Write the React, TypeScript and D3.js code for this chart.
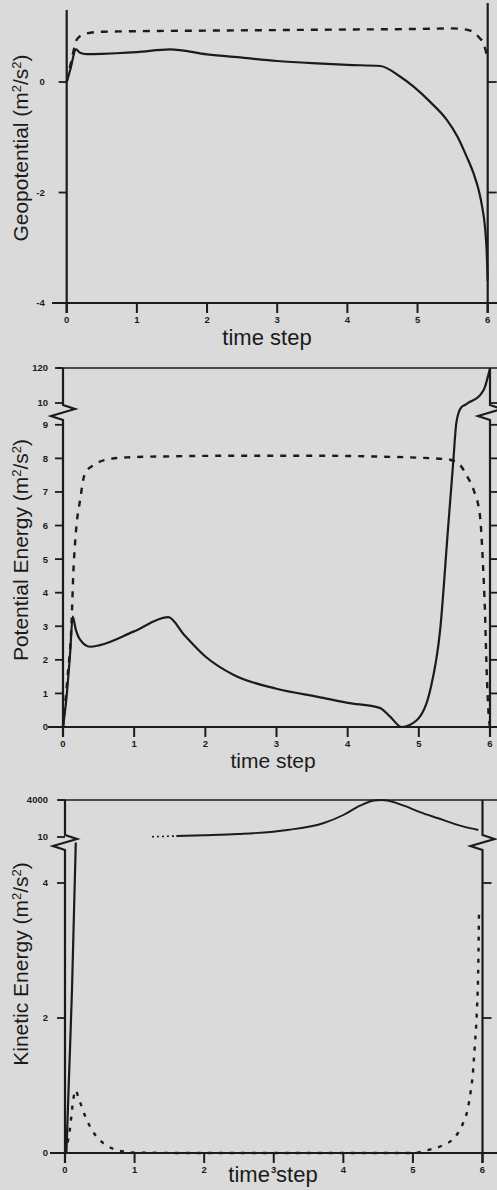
import React from "react";
import * as d3 from "d3";

// ---------- data ----------
const timeTicks = [0, 1, 2, 3, 4, 5, 6];

const geoTicks = [0, -2, -4];
const peTicks = [0, 1, 2, 3, 4, 5, 6, 7, 8, 9, 10, 120];
const keTicks = [0, 2, 4, 10, 4000];

// Panel 1: Geopotential
const geoSolidT = [0, 0.05, 0.133, 0.19, 0.28, 0.5, 0.71, 1.0, 1.47, 2.0, 2.5, 3.0, 3.5, 4.0, 4.47, 4.75, 4.94, 5.18, 5.42, 5.57, 5.7, 5.8, 5.87, 5.92, 5.96, 5.985, 6.0];
const geoSolidV = [0, 0.22, 0.59, 0.53, 0.505, 0.51, 0.52, 0.54, 0.59, 0.5, 0.44, 0.38, 0.34, 0.31, 0.29, 0.1, -0.08, -0.36, -0.69, -0.99, -1.35, -1.66, -1.95, -2.25, -2.61, -3.05, -3.6];
const geoDashT = [0, 0.07, 0.14, 0.2, 0.285, 0.52, 1.0, 2.0, 3.0, 4.0, 5.0, 5.5, 5.63, 5.75, 5.82, 5.88, 5.94, 5.98, 6.0];
const geoDashV = [0, 0.4, 0.76, 0.84, 0.88, 0.91, 0.92, 0.93, 0.94, 0.95, 0.96, 0.97, 0.96, 0.93, 0.88, 0.8, 0.7, 0.52, 0.4];

// Panel 2: Potential Energy
const peSolidT = [0, 0.05, 0.1, 0.136, 0.18, 0.24, 0.38, 0.52, 0.99, 1.48, 1.7, 2.0, 2.4, 3.0, 3.6, 4.0, 4.45, 4.6, 4.76, 4.97, 5.16, 5.3, 5.41, 5.48, 5.53, 5.6, 5.66, 5.72, 5.81, 5.87, 5.93, 5.976, 6.0];
const peSolidV = [0, 0.9, 2.2, 3.29, 2.9, 2.6, 2.39, 2.44, 2.84, 3.27, 2.75, 2.1, 1.55, 1.14, 0.89, 0.72, 0.57, 0.3, 0, 0.2, 1.1, 2.9, 5.9, 7.8, 9.1, 9.6, 9.85, 14, 24.8, 37, 61, 98, 118];
const peDashT = [0, 0.06, 0.12, 0.145, 0.18, 0.24, 0.31, 0.43, 0.66, 0.9, 1.5, 2.5, 3.5, 4.5, 5.0, 5.35, 5.44, 5.58, 5.68, 5.77, 5.86, 5.9, 5.93, 5.95, 5.98, 6.0];
const peDashV = [0, 1.4, 3.1, 4.58, 5.77, 6.76, 7.56, 7.8, 7.98, 8.03, 8.06, 8.08, 8.08, 8.05, 8.02, 7.98, 7.96, 7.8, 7.46, 7.06, 6.27, 4.9, 3.4, 1.9, 0.4, 0];

// Panel 3: Kinetic Energy
const keSolidT = [0.02, 0.06, 0.1, 0.155];
const keSolidV = [0, 1.2, 2.4, 4.6];
const keUpperDotT = [1.25, 1.4, 1.58];
const keUpperDotV = [42, 70, 110];
const keUpperT = [1.6, 2.0, 2.49, 3.2, 3.72, 4.0, 4.24, 4.44, 4.55, 4.63, 4.87, 5.1, 5.35, 5.73, 5.94];
const keUpperV = [115, 200, 333, 765, 1520, 2382, 3385, 3950, 4000, 3950, 3385, 2700, 2059, 1121, 765];
const keDashT = [0, 0.07, 0.12, 0.15, 0.2, 0.3, 0.4, 0.5, 0.6, 0.7, 0.85, 1.0, 2, 3, 4, 5, 5.2, 5.44, 5.61, 5.72, 5.79, 5.83, 5.86, 5.89, 5.92, 5.94, 5.95];
const keDashV = [0, 0.35, 0.8, 0.93, 0.8, 0.52, 0.32, 0.19, 0.11, 0.06, 0.02, 0.005, 0, 0, 0, 0, 0.04, 0.12, 0.24, 0.44, 0.66, 0.91, 1.16, 1.6, 2.12, 2.8, 3.6];

// ---------- drawing ----------
const INK = "#1b1b1b";
const FONT = "'Liberation Sans', Arial, Helvetica, sans-serif";

type Series = { t: number[]; v: number[]; dash?: string; width?: number };

type PanelProps = {
  xRange: [number, number];
  yDomain: number[];
  yRange: number[];
  yTicks: number[];
  rightTicks: number[];
  axisTopL: number;
  axisTopR: number;
  breakY: number | null;
  topLine: boolean;
  baseLeft: number;
  labelOffset: number;
  series: Series[];
  yLabel: string;
  yLabelCenter: number;
  xLabelY: number;
  xLabelX: number;
  xLabelSize: number;
};

function Panel(p: PanelProps) {
  const x = d3.scaleLinear().domain([0, 6]).range(p.xRange);
  const y = d3.scaleLinear().domain(p.yDomain).range(p.yRange);
  const base = y(p.yDomain[0]);
  const axL = p.xRange[0];
  const axR = p.xRange[1];
  const line = d3
    .line<[number, number]>()
    .x((d) => x(d[0]))
    .y((d) => y(d[1]))
    .curve(d3.curveMonotoneX);

  const axisPath = (ax: number, top: number) => {
    if (p.breakY == null) return `M${ax},${top}V${base + 10}`;
    const b = p.breakY;
    return `M${ax},${top}V${b}L${ax + 12},${b + 4}L${ax - 12},${b + 11}L${ax},${b + 15}V${base + 10}`;
  };

  return (
    <g>
      {p.topLine && (
        <line x1={axL - 6} x2={497} y1={p.yRange[p.yRange.length - 1]} y2={p.yRange[p.yRange.length - 1]} stroke={INK} strokeWidth={1.6} />
      )}
      <line x1={p.baseLeft} x2={497} y1={base} y2={base} stroke={INK} strokeWidth={1.8} />
      <path d={axisPath(axL, p.axisTopL)} fill="none" stroke={INK} strokeWidth={2.2} />
      <path d={axisPath(axR, p.axisTopR)} fill="none" stroke={INK} strokeWidth={2.2} />
      {timeTicks.map((t) => (
        <g key={"xt" + t}>
          <line x1={x(t)} x2={x(t)} y1={base} y2={base + 10} stroke={INK} strokeWidth={2} />
          <text x={x(t)} y={base + 20} textAnchor="middle" fontSize={9.5} fontWeight="bold" fontFamily={FONT} fill={INK}>
            {t}
          </text>
        </g>
      ))}
      {p.yTicks.map((v) => (
        <g key={"yt" + v}>
          <line x1={axL - 8} x2={axL} y1={y(v)} y2={y(v)} stroke={INK} strokeWidth={1.8} />
          <text x={axL - p.labelOffset} y={y(v) + 3.4} textAnchor="end" fontSize={9.5} fontWeight="bold" fontFamily={FONT} fill={INK}>
            {v < 0 ? "-" + Math.abs(v) : v}
          </text>
        </g>
      ))}
      {p.rightTicks.map((v) => (
        <line key={"rt" + v} x1={axR} x2={axR + 9} y1={y(v)} y2={y(v)} stroke={INK} strokeWidth={1.8} />
      ))}
      {p.series.map((s, i) => (
        <path
          key={"s" + i}
          d={line(s.t.map((t, j) => [t, s.v[j]] as [number, number])) || ""}
          fill="none"
          stroke={INK}
          strokeWidth={s.width ?? 2.2}
          strokeDasharray={s.dash}
          strokeLinejoin="round"
        />
      ))}
      <text
        transform={`translate(28,${p.yLabelCenter}) rotate(-90)`}
        textAnchor="middle"
        fontSize={21}
        fontFamily={FONT}
        fill={INK}
      >
        {p.yLabel.split("²")[0]}
        <tspan fontSize={13} dy={-7}>2</tspan>
        <tspan dy={7}>/s</tspan>
        <tspan fontSize={13} dy={-7}>2</tspan>
        <tspan dy={7}>)</tspan>
      </text>
      <text x={p.xLabelX} y={p.xLabelY} textAnchor="middle" fontSize={p.xLabelSize} fontFamily={FONT} fill={INK}>
        time step
      </text>
    </g>
  );
}

export default function App() {
  return (
    <svg
      width={497}
      height={1190}
      viewBox="0 0 497 1190"
      style={{ position: "absolute", left: 0, top: 0, display: "block" }}
    >
      <rect x={0} y={0} width={497} height={1190} fill="#dadada" />
      <Panel
        xRange={[66.7, 487.7]}
        yDomain={[-4, 0]}
        yRange={[303, 82]}
        yTicks={geoTicks}
        rightTicks={[0, -2]}
        axisTopL={10}
        axisTopR={3}
        breakY={null}
        topLine={false}
        baseLeft={52}
        labelOffset={22}
        series={[
          { t: geoSolidT, v: geoSolidV, width: 2.2 },
          { t: geoDashT, v: geoDashV, dash: "7,7", width: 2.4 },
        ]}
        yLabel="Geopotential (m²/s²)"
        yLabelCenter={148}
        xLabelY={345}
        xLabelX={267}
        xLabelSize={22}
      />
      <Panel
        xRange={[63, 490]}
        yDomain={[0, 9.5, 10, 120]}
        yRange={[727, 408, 403, 368]}
        yTicks={peTicks}
        rightTicks={[0, 1, 2, 3, 4, 5, 6, 7, 8, 9, 10]}
        axisTopL={368}
        axisTopR={368}
        breakY={405}
        topLine={true}
        baseLeft={48}
        labelOffset={15}
        series={[
          { t: peSolidT, v: peSolidV, width: 2.2 },
          { t: peDashT, v: peDashV, dash: "6,7", width: 2.4 },
        ]}
        yLabel="Potential Energy (m²/s²)"
        yLabelCenter={550}
        xLabelY={768}
        xLabelX={273}
        xLabelSize={21}
      />
      <Panel
        xRange={[65, 482.5]}
        yDomain={[0, 4.6, 10, 4000]}
        yRange={[1153, 842.5, 837, 800]}
        yTicks={keTicks}
        rightTicks={[2, 4]}
        axisTopL={800}
        axisTopR={800}
        breakY={835}
        topLine={true}
        baseLeft={50}
        labelOffset={17}
        series={[
          { t: keSolidT, v: keSolidV, width: 2.2 },
          { t: keUpperDotT, v: keUpperDotV, dash: "2,3", width: 1.6 },
          { t: keUpperT, v: keUpperV, width: 1.9 },
          { t: keDashT, v: keDashV, dash: "4,7", width: 2.4 },
        ]}
        yLabel="Kinetic Energy (m²/s²)"
        yLabelCenter={964}
        xLabelY={1182}
        xLabelX={273}
        xLabelSize={22}
      />
    </svg>
  );
}
